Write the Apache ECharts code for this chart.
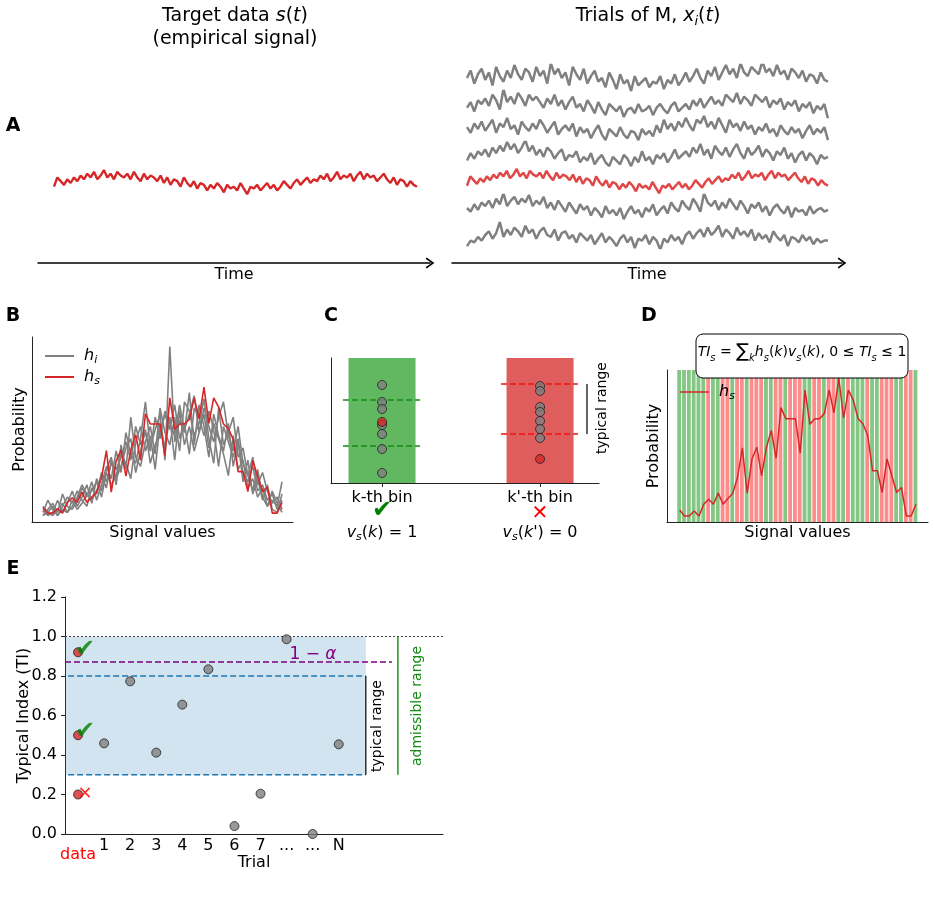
<!DOCTYPE html>
<html>
<head>
<meta charset="utf-8">
<script src="https://cdn.jsdelivr.net/npm/echarts@6/dist/echarts.min.js"></script>
<style>
  html, body { margin: 0; padding: 0; background: #fff; }
  #main { width: 935px; height: 911px; }
</style>
</head>
<body>
<div id="main"></div>
<script>
const FONT = 'DejaVu Sans';

// ---- panel A : target signal and trials of the model (arbitrary units) ----
const signalS = [
  -2,3,1,-1,2,0,3,1,4,2,5,3,6,2,4,7,3,5,2,6,
  4,3,5,2,6,3,1,5,2,4,3,1,4,0,3,-1,2,1,-2,3,
  0,-2,1,-3,0,-1,-4,-1,-3,0,-2,-5,-1,-3,-2,-4,0,-3,-6,-2,
  -3,-1,-4,-2,0,-3,-1,-4,-2,1,-1,-3,0,2,-1,1,3,0,2,1,
  4,2,5,1,3,6,2,4,3,5,1,4,6,2,5,3,4,1,3,5,
  2,0,3,-1,2,1,-2,1,-1,-2
];
const trial1 = [
  0,4,-3,2,5,-1,3,-4,6,1,-2,4,0,7,2,-1,5,3,-2,6,
  1,4,-3,8,2,5,0,3,-4,6,2,-1,5,-3,1,4,-2,0,-5,3,
  -1,-6,2,-3,-1,-7,1,-4,-2,0,-5,-2,-3,1,-6,-1,-3,2,-4,-1,
  3,-2,1,5,0,-3,4,1,6,-1,3,7,2,5,0,8,3,1,6,4,
  2,9,3,5,1,7,2,4,-1,5,3,0,4,-2,2,1,-3,3,-1,-2
];
const trial2 = [
  -2,1,-4,2,0,3,-1,5,2,-3,8,1,4,0,6,3,-1,5,2,4,
  1,-2,3,0,5,-1,2,-3,1,4,-2,0,-4,2,-1,-5,1,-3,-6,0,
  -2,-4,-1,-7,-3,-2,-5,0,-4,-3,-1,-6,-2,0,-3,-5,-1,1,-4,-2,
  0,-3,2,-1,3,-2,1,4,0,2,-1,5,3,1,6,0,4,2,-1,5,
  3,1,4,-2,2,0,3,-3,1,-1,2,-4,0,-2,1,-5,-1,-3,0,-8
];
const trial3 = [
  1,-2,3,0,4,-1,2,5,-2,3,1,6,0,2,-3,4,1,-1,3,0,
  5,2,-2,1,4,-3,0,2,-1,3,-4,1,-2,0,-5,-1,2,-3,-6,0,
  -2,-4,1,-3,-5,-1,-2,-6,0,-3,-1,-4,2,-2,5,0,3,-1,4,1,
  6,2,-1,5,3,7,1,4,0,6,2,-2,5,1,3,-1,4,0,2,-3,
  1,-1,3,-2,0,-4,2,-1,-3,1,-2,0,-5,-1,2,-3,0,-2,1,-6
];
const trial4 = [
  -3,1,-2,2,0,3,-1,4,1,5,2,7,3,6,1,4,8,2,5,0,
  3,-1,4,2,-2,1,3,-3,0,-1,2,-4,-1,-3,1,-5,-2,0,-4,-6,
  -1,-3,-5,0,-2,-6,-1,-4,2,-3,-1,-5,0,-2,1,-4,-1,3,-2,0,
  2,-1,4,1,6,0,3,-2,5,2,0,4,-1,3,6,1,-2,4,0,2,
  5,-1,3,1,-3,2,0,4,-2,1,-4,0,2,-3,1,-1,-5,0,-2,-1
];
const trial5 = [
  0,-2,2,-1,3,1,4,0,5,2,8,1,4,6,2,5,3,7,1,4,
  2,6,0,3,-1,4,1,-2,3,0,-3,2,-1,1,-4,0,-2,-5,1,-3,
  -1,-4,0,-6,-2,1,-3,-1,-5,0,-2,2,-4,-1,1,-3,3,0,-2,4,
  1,-1,5,2,-2,8,3,1,4,-1,3,0,5,2,-1,4,1,-3,2,0,
  3,-2,1,-4,0,2,-1,-3,1,-5,0,-2,-1,-4,1,-3,-1,0,-2,-1
];
const trial6 = [
  -6,-3,-4,-1,-3,0,2,-2,1,7,-1,3,0,4,2,-1,5,1,3,-2,
  2,4,0,-1,3,-3,1,2,-2,0,-4,1,-1,-3,0,-5,-2,1,-4,-1,
  -3,-6,-2,0,-4,-1,-7,-2,-3,0,-5,-1,-3,-8,-2,-4,0,-3,-1,-5,
  0,2,-2,1,3,-1,4,0,2,5,-1,3,1,-2,4,0,2,-1,3,-3,
  1,-2,0,-4,2,-1,-3,0,-6,-1,-2,-4,0,-3,-1,-5,-2,-4,-3,-3
];
const trialRows = [trial1, trial2, trial3, trial4, signalS, trial5, trial6];

// ---- panels B / D : histograms (50 bins) ----
const histS = [3.6,1.8,1.8,3.3,1.8,5.3,6.8,5.3,8.6,5.3,7.0,8.5,13.3,22.1,8.6,18.8,22.3,13.8,22.3,27.3,
  19.0,34.1,30.8,30.8,30.8,20.5,39.3,29.1,30.8,30.8,32.3,39.3,32.5,42.8,31.0,39.3,36.3,30.8,29.3,25.8,
  15.3,15.3,8.8,18.8,13.8,8.8,10.3,1.8,1.8,5.3];
const histTrial1 = [2,6,3,1,4,7,5,9,6,4,10,8,15,12,18,16,20,25,19,30,24,28,22,33,26,35,31,27,37,29,34,40,28,36,30,25,33,38,27,22,30,18,14,20,11,15,9,5,7,3];
const histTrial2 = [1,3,5,2,8,4,3,6,10,7,12,6,11,17,13,22,15,28,21,18,26,38,23,29,34,19,56,25,32,28,41,24,37,30,20,34,27,22,31,17,25,12,19,8,13,6,11,3,2,8];
const histTrial3 = [3,1,2,6,2,5,9,4,7,11,5,13,9,16,20,11,24,16,33,20,17,25,30,21,36,28,24,33,22,38,35,27,31,39,26,18,36,24,28,33,20,23,14,9,16,7,4,9,5,2];
const histTrial4 = [4,2,1,3,5,2,4,7,11,8,6,9,14,10,19,13,17,23,26,15,22,29,18,24,28,34,29,37,26,31,21,36,33,27,35,29,17,30,25,20,26,15,12,17,9,11,6,8,3,6];
const histTrial5 = [1,2,4,1,3,2,6,3,5,8,9,12,7,15,11,14,21,18,13,25,30,22,27,16,31,23,33,19,35,24,30,22,28,34,23,31,26,21,14,27,16,19,10,13,7,10,4,6,4,12];
const histTrials = [histTrial1, histTrial2, histTrial3, histTrial4, histTrial5];
// 1 = bin where h_s lies in the typical range, 0 = outside
const binTypical = [1,1,1,1,1,1,0,1,1,0,0,1,0,0,1,0,0,0,1,1,0,0,1,0,0,0,1,1,0,0,
  1,0,0,1,1,0,1,1,1,0,1,1,0,0,0,1,1,0,0,1];

// ---- panel C : one bin, trial values ----
const binLabels = ['k-th bin', "k'-th bin"];
const binTrialsK = [0.784, 0.648, 0.592, 0.464, 0.392, 0.272, 0.08];
const binDataK = 0.488;
const rangeK = [0.296, 0.664];
const binTrialsK2 = [0.776, 0.736, 0.608, 0.568, 0.496, 0.432, 0.36];
const binDataK2 = 0.192;
const rangeK2 = [0.392, 0.792];

// ---- panel E : typical index ----
const trialLabels = ['data', '1', '2', '3', '4', '5', '6', '7', '...', '...', 'N'];
const trialTI = [0.459, 0.773, 0.412, 0.655, 0.834, 0.04, 0.204, 0.986, 0.0, 0.454];
const dataTI = [0.92, 0.5, 0.2];
const dataOk = [true, true, false];
const typicalRange = [0.3, 0.8];
const admissibleTop = 1.0;
const alphaLevel = 0.871;

// ------------------------------------------------------------------
const grids = [], xAxes = [], yAxes = [], series = [];
function addGrid(g, xa, ya) {
  const idx = grids.length;
  grids.push(g);
  xAxes.push(Object.assign({ gridIndex: idx, type: 'value' }, xa));
  yAxes.push(Object.assign({ gridIndex: idx, type: 'value' }, ya));
  return idx;
}
function spine(extra) {
  return Object.assign({
    axisLine: { show: true, onZero: false, lineStyle: { color: '#222', width: 1 } },
    axisTick: { show: false }, axisLabel: { show: false }, splitLine: { show: false },
    nameMoveOverlap: false
  }, extra || {});
}
function nameStyle(size) {
  return { fontSize: size || 16, fontFamily: FONT, color: '#000' };
}
function line(idx, data, color, width, extra) {
  return Object.assign({
    type: 'line', xAxisIndex: idx, yAxisIndex: idx, data: data, symbol: 'none',
    lineStyle: { color: color, width: width }, itemStyle: { color: color },
    silent: true, animation: false
  }, extra || {});
}
const idxPts = arr => arr.map((v, i) => [i, v]);

// A left : target signal
let g = addGrid({ left: 54, width: 363, top: 170, height: 26 },
  { show: false, min: 0, max: signalS.length - 1 }, { show: false, min: -7, max: 7 });
series.push(line(g, idxPts(signalS), '#d62728', 2.4));

// A right : trials stacked
const rowCenters = [78, 104, 129, 155, 182, 208, 235];
trialRows.forEach((row, k) => {
  const gi = addGrid({ left: 467, width: 361, top: rowCenters[k] - 13, height: 26 },
    { show: false, min: 0, max: row.length - 1 }, { show: false, min: -7, max: 7 });
  const red = row === signalS;
  series.push(line(gi, idxPts(row), red ? '#e04848' : '#808080', 2.5));
});

// time arrows
const arrowPath = 'path://M5,0L10,7L8.8,8L5,2.6L1.2,8L0,7Z';
[[38, 392], [452, 390]].forEach(([l, w]) => {
  addGrid({ left: l, width: w, top: 240, height: 23 },
    spine({ min: 0, max: 1,
      axisLine: { show: true, onZero: false, symbol: ['none', arrowPath], symbolSize: [11, 9],
        lineStyle: { color: '#000', width: 1.5 } },
      name: 'Time', nameLocation: 'middle', nameGap: 4,
      nameTextStyle: Object.assign(nameStyle(16), { verticalAlign: 'top' }) }),
    { show: false, min: 0, max: 1 });
});

// B : histograms
g = addGrid({ left: 32, top: 337, width: 261, height: 185 },
  spine({ min: -2.25, max: 51.25, name: 'Signal values', nameLocation: 'middle', nameGap: 3,
    nameTextStyle: Object.assign(nameStyle(16), { verticalAlign: 'top' }) }),
  spine({ min: -1.1, max: 59.1, name: 'Probability', nameLocation: 'middle', nameGap: 4,
    nameRotate: 90, nameTextStyle: nameStyle(16) }));
histTrials.forEach(h => series.push(line(g, idxPts(h), '#808080', 1.6)));
series.push(line(g, idxPts(histS), '#d62728', 1.6));

// C : single bins
g = addGrid({ left: 331, top: 358, width: 268, height: 125 },
  spine({ min: -0.323, max: 1.373,
    axisTick: { show: true, customValues: [0, 1], length: 4, lineStyle: { color: '#222' } },
    axisLabel: { show: true, customValues: [0, 1], margin: 7, fontSize: 16, fontFamily: FONT, color: '#000',
      formatter: v => binLabels[Math.round(v)] } }),
  spine({ min: 0, max: 1 }));
series.push({ type: 'bar', xAxisIndex: g, yAxisIndex: g, barWidth: 67, silent: true, animation: false,
  data: [{ value: [0, 1], itemStyle: { color: '#61b861' } }, { value: [1, 1], itemStyle: { color: '#e05d5e' } }] });
[[rangeK, 0, '#138a13'], [rangeK2, 1, '#ee1111']].forEach(([rng, c, col]) => {
  rng.forEach(v => series.push(line(g, [[c - 0.247, v], [c + 0.24, v]], col, 1.4,
    { lineStyle: { color: col, width: 1.4, type: [6, 3] } })));
});
series.push(line(g, [[1.297, rangeK2[0]], [1.297, rangeK2[1]]], '#000', 1.2));
const dotStyle = (c) => ({ color: c, borderColor: '#222', borderWidth: 1 });
series.push({ type: 'scatter', xAxisIndex: g, yAxisIndex: g, symbolSize: 9, silent: true, animation: false, z: 5,
  itemStyle: dotStyle('#808080'),
  data: binTrialsK.map(v => [0, v]).concat(binTrialsK2.map(v => [1, v])) });
series.push({ type: 'scatter', xAxisIndex: g, yAxisIndex: g, symbolSize: 9, silent: true, animation: false, z: 6,
  itemStyle: dotStyle('#d62728'), data: [[0, binDataK], [1, binDataK2]] });

// D : typical bins
g = addGrid({ left: 667, top: 370, width: 261, height: 152 },
  spine({ min: -2.63, max: 51.5, name: 'Signal values', nameLocation: 'middle', nameGap: 3,
    nameTextStyle: Object.assign(nameStyle(16), { verticalAlign: 'top' }) }),
  spine({ min: 0, max: 45.3, name: 'Probability', nameLocation: 'middle', nameGap: 5,
    nameRotate: 90, nameTextStyle: nameStyle(16) }));
series.push({ type: 'custom', xAxisIndex: g, yAxisIndex: g, silent: true, animation: false, z: 1,
  data: binTypical.map((ok, i) => [i, ok]),
  renderItem: function (params, api) {
    const i = api.value(0);
    const a = api.coord([i - 0.5, 0]);
    const b = api.coord([i + 0.5, 0]);
    const cs = params.coordSys;
    return { type: 'rect', shape: { x: a[0], y: cs.y, width: b[0] - a[0] - 1, height: cs.height },
      style: { fill: api.value(1) ? '#84c684' : '#ff8c8c' } };
  } });
series.push(line(g, idxPts(histS), '#d62728', 1.5, { z: 4 }));

// E : typical index
g = addGrid({ left: 65, top: 597, width: 378, height: 237 },
  spine({ min: -0.5, max: 14,
    axisLabel: { show: true, customValues: trialLabels.map((t, i) => i), margin: 4, fontSize: 16,
      fontFamily: FONT, color: '#000', formatter: v => {
        const t = trialLabels[Math.round(v)];
        return t === 'data' ? '{d|data}' : t;
      },
      rich: { d: { color: '#ff0000', fontSize: 16, fontFamily: FONT, padding: [9, 0, 0, 0] } } },
    name: 'Trial', nameLocation: 'middle', nameGap: 21,
    nameTextStyle: Object.assign(nameStyle(16), { verticalAlign: 'top' }) }),
  spine({ min: 0, max: 1.2, interval: 0.2,
    axisTick: { show: true, length: 4, lineStyle: { color: '#222' } },
    axisLabel: { show: true, margin: 8, fontSize: 16, fontFamily: FONT, color: '#000',
      formatter: v => v.toFixed(1) },
    name: 'Typical Index (TI)', nameLocation: 'middle', nameGap: 33, nameRotate: 90,
    nameTextStyle: nameStyle(16) }));
series.push(line(g, [], '#000', 1, {
  markArea: { silent: true, itemStyle: { color: 'rgba(31,119,180,0.2)' },
    data: [[{ coord: [-0.5, typicalRange[0]] }, { coord: [11.04, admissibleTop] }]] } }));
series.push(line(g, [[-0.5, admissibleTop], [14, admissibleTop]], '#444', 1,
  { lineStyle: { color: '#444', width: 1, type: [2, 2] } }));
typicalRange.forEach(v => series.push(line(g, [[-0.38, v], [11.04, v]], '#1f77b4', 1.4,
  { lineStyle: { color: '#1f77b4', width: 1.4, type: [6, 3] } })));
series.push(line(g, [[-0.5, alphaLevel], [12.04, alphaLevel]], '#800080', 1.4,
  { lineStyle: { color: '#800080', width: 1.4, type: [6, 3] } }));
series.push(line(g, [[11.04, typicalRange[0]], [11.04, typicalRange[1]]], '#000', 1.2));
series.push(line(g, [[12.27, typicalRange[0]], [12.27, admissibleTop]], '#138a13', 1.4));
series.push({ type: 'scatter', xAxisIndex: g, yAxisIndex: g, symbolSize: 9, silent: true, animation: false, z: 5,
  itemStyle: dotStyle('#808080'), data: trialTI.map((v, i) => [i + 1, v]), clip: false });
series.push({ type: 'scatter', xAxisIndex: g, yAxisIndex: g, symbolSize: 9, silent: true, animation: false, z: 5,
  itemStyle: dotStyle('#d62728'), clip: false,
  data: dataTI.map((v, i) => ({ value: [0, v], label: dataOk[i]
    ? { show: true, formatter: '\u2714', position: 'inside', offset: [7, -3], color: '#008000', fontSize: 24, fontFamily: FONT }
    : { show: true, formatter: '\u2715', position: 'inside', offset: [7, 0], color: '#ff0000', fontSize: 18, fontFamily: FONT } })) });

// ---- text annotations ----
const sub = (size, lh) => ({ fontSize: size, fontFamily: FONT, fontStyle: 'italic', lineHeight: lh, verticalAlign: 'bottom' });
const ital = (size, lh) => ({ fontSize: size, fontFamily: FONT, fontStyle: 'italic', lineHeight: lh });
function txt(x, y, text, size, opt) {
  opt = opt || {};
  return { type: 'text', x: x, y: y, rotation: opt.rot || 0, z: 100, silent: true,
    style: { text: text, fontSize: size, fontFamily: FONT, fontWeight: opt.bold ? 'bold' : 'normal',
      fill: opt.color || '#000', align: opt.align || 'center', verticalAlign: 'middle',
      lineHeight: opt.lh, rich: opt.rich } };
}
const graphics = [
  txt(235, 16, 'Target data {i|s}({i|t})', 19, { rich: { i: ital(19) } }),
  txt(235, 39, '(empirical signal)', 19),
  txt(648, 16, 'Trials of M, {i|x}{s|i}({i|t})', 19, { lh: 24, rich: { i: ital(19, 24), s: sub(13, 15) } }),
  txt(13, 126, 'A', 19, { bold: true }),
  txt(13, 316, 'B', 19, { bold: true }),
  txt(331, 316, 'C', 19, { bold: true }),
  txt(649, 316, 'D', 19, { bold: true }),
  txt(13, 569, 'E', 19, { bold: true }),
  // B legend
  { type: 'line', z: 100, shape: { x1: 45, y1: 356, x2: 74, y2: 356 }, style: { stroke: '#808080', lineWidth: 2 } },
  { type: 'line', z: 100, shape: { x1: 45, y1: 377, x2: 74, y2: 377 }, style: { stroke: '#d62728', lineWidth: 2 } },
  txt(84, 356, '{i|h}{s|i}', 16, { align: 'left', lh: 20, rich: { i: ital(16, 20), s: sub(11, 12) } }),
  txt(84, 377, '{i|h}{s|s}', 16, { align: 'left', lh: 20, rich: { i: ital(16, 20), s: sub(11, 12) } }),
  // C
  txt(602, 408, 'typical range', 14, { rot: Math.PI / 2 }),
  txt(382, 511, '\u2714', 24, { color: '#008000' }),
  txt(540, 514, '\u2715', 20, { color: '#ff0000' }),
  txt(382, 533, '{i|v}{s|s}({i|k}) = 1', 16, { lh: 20, rich: { i: ital(16, 20), s: sub(11, 12) } }),
  txt(540, 533, "{i|v}{s|s}({i|k}') = 0", 16, { lh: 20, rich: { i: ital(16, 20), s: sub(11, 12) } }),
  // D
  { type: 'rect', z: 100, shape: { x: 696, y: 334, width: 212, height: 44, r: 7 },
    style: { fill: '#fff', stroke: '#000', lineWidth: 1 } },
  txt(802, 352, '{i|TI}{s|s} = {b|\u2211}{s|k}{i|h}{s|s}({i|k}){i|v}{s|s}({i|k}), 0 \u2264 {i|TI}{s|s} \u2264 1', 14,
    { lh: 22, rich: { i: ital(14, 22), s: sub(10, 13), b: { fontSize: 19, fontFamily: FONT, lineHeight: 22 } } }),
  { type: 'line', z: 100, shape: { x1: 680, y1: 392, x2: 709, y2: 392 }, style: { stroke: '#d62728', lineWidth: 1.5 } },
  txt(719, 392, '{i|h}{s|s}', 16, { align: 'left', lh: 20, rich: { i: ital(16, 20), s: sub(11, 12) } }),
  // E
  txt(313, 655, '1 \u2212 {i|\u03b1}', 17, { color: '#800080', rich: { i: Object.assign(ital(17), { fill: '#800080' }) } }),
  txt(377, 726, 'typical range', 14, { rot: Math.PI / 2 }),
  txt(417, 706, 'admissible range', 14, { rot: Math.PI / 2, color: '#138a13' })
];

const chart = echarts.init(document.getElementById('main'), null, { renderer: 'canvas' });
chart.setOption({
  animation: false,
  backgroundColor: '#fff',
  textStyle: { fontFamily: FONT },
  grid: grids,
  xAxis: xAxes,
  yAxis: yAxes,
  series: series,
  graphic: graphics
});
window.onresize = function () { chart.resize(); };
</script>
</body>
</html>
